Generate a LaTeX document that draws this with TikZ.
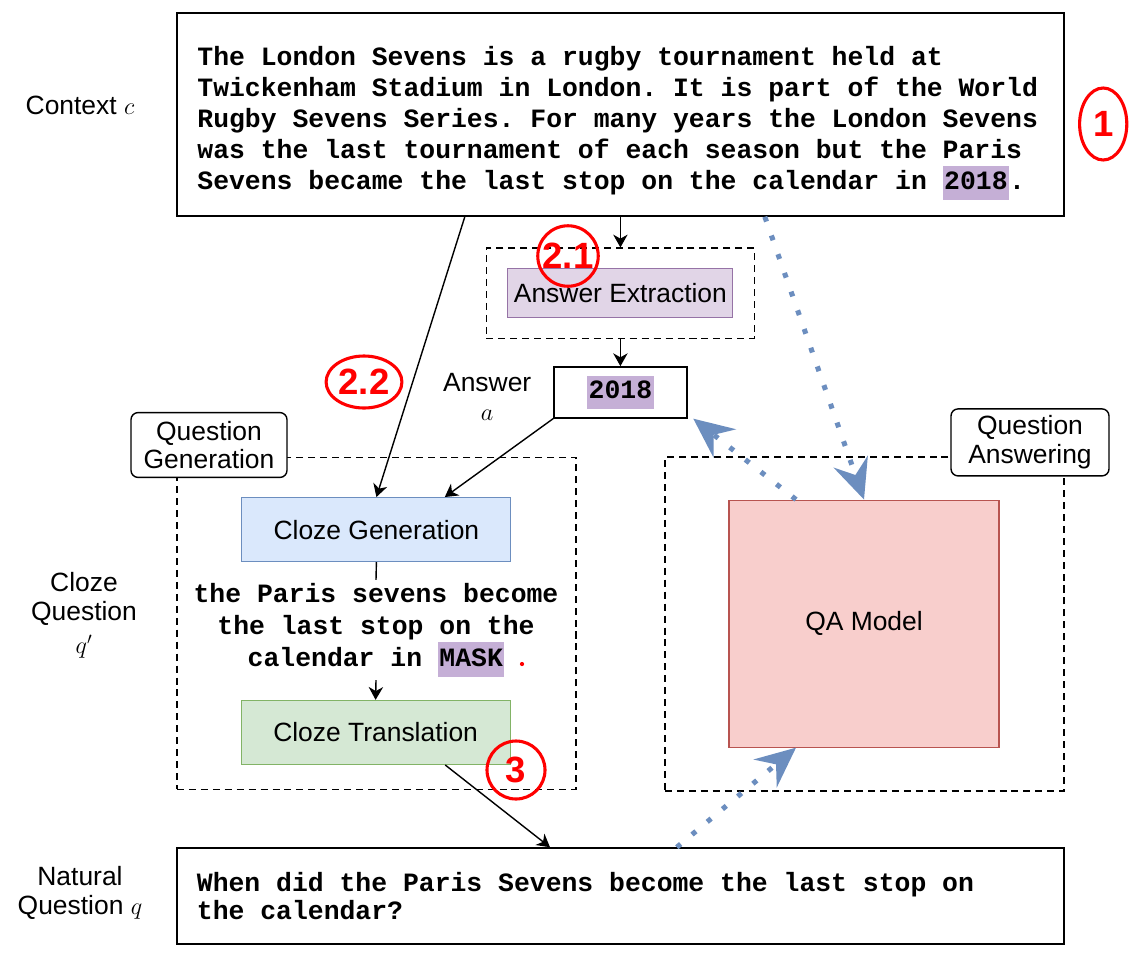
\documentclass[tikz,border=0pt]{standalone}
\usepackage{fontspec}
\setmainfont{Liberation Sans}
\setmonofont{Liberation Mono}
\usetikzlibrary{
	arrows.meta,
	positioning,
	fit,
	backgrounds,
	calc,
	shapes.geometric
}
\definecolor{GenBlue}{HTML}{DAE8FC}
\definecolor{GenBlueLine}{HTML}{6C8EBF}
\definecolor{TransGreen}{HTML}{D5E8D4}
\definecolor{TransGreenLine}{HTML}{82B366}
\definecolor{ExtractPurple}{HTML}{E1D5E7}
\definecolor{ExtractPurpleLine}{HTML}{9673A6}
\definecolor{ModelRed}{HTML}{F8CECC}
\definecolor{ModelRedLine}{HTML}{B85450}
\definecolor{SpanPurple}{HTML}{C5AFD6}
\definecolor{NoteRed}{HTML}{FF0000}
\newcommand{\spanmark}[1]{{\setlength{\fboxsep}{1pt}\colorbox{SpanPurple}{\strut#1}}}
\newcommand{\monospaces}{\spaceskip=.6em\xspaceskip=.6em\relax}

\begin{document}
\begin{tikzpicture}[
 font=\fontsize{18.8}{20.5}\selectfont,
 textbox/.style={draw,line width=1.1pt,align=left,
   font=\fontsize{18.8}{22}\selectfont\ttfamily\bfseries},
 proc/.style={draw,line width=.8pt,minimum width=6.725cm,minimum height=1.6cm},
 genblock/.style={proc,draw=GenBlueLine,fill=GenBlue},
 transblock/.style={proc,draw=TransGreenLine,fill=TransGreen},
 extblock/.style={proc,draw=ExtractPurpleLine,fill=ExtractPurple,
   minimum width=5.625cm,minimum height=1.225cm},
 group/.style={draw,dash pattern=on 5pt off 3.5pt,line width=1pt},
 tagbox/.style={draw,fill=white,rounded corners=5pt,line width=1pt,align=center,
   minimum width=3.9cm,minimum height=1.62cm,inner sep=1pt},
 sidelabel/.style={align=center},
 flow/.style={-{Stealth[length=3.2mm,width=3.6mm,inset=1mm]},line width=1pt},
 feed/.style={-{Stealth[length=10mm,width=9mm,inset=3.5mm]},draw=GenBlueLine,
   line width=3.6pt,dash pattern=on 3.6pt off 10.5pt},
 note/.style={draw=NoteRed,text=NoteRed,line width=2.2pt,
   font=\fontsize{26}{26}\selectfont\bfseries,inner sep=1pt}
]
 \useasboundingbox (0,0) rectangle (28.7,-23.9);
 \node[textbox,text width=21.15cm,inner xsep=0.515cm,minimum height=5.08cm]
   (ctx) at (15.51,-2.86)
   {\monospaces\rule{0pt}{26.4pt}The London Sevens is a rugby tournament held at\\
    Twickenham Stadium in London. It is part of the World\\
    Rugby Sevens Series. For many years the London Sevens\\
    was the last tournament of each season but the Paris\\
    Sevens became the last stop on the calendar in \spanmark{2018}.};
 \node[sidelabel] (ctxlabel) at (2.0,-2.63) {Context $c$};
 \node[extblock] (aext) at (15.51,-7.33) {Answer Extraction};
 \node[textbox,minimum width=3.325cm,minimum height=1.275cm,inner sep=0pt]
   (ans) at (15.51,-9.81) {\spanmark{2018}};
 \node[sidelabel] (anslabel) at (12.18,-9.93) {Answer\\$a$};
 \node[genblock] (cgen) at (9.41,-13.24) {Cloze Generation};
 \node[align=center,inner sep=2pt,
   font=\fontsize{18.8}{22.7}\selectfont\ttfamily\bfseries] (cloze) at (9.4,-15.75)
   {the Paris sevens become\\the last stop on the\\calendar in \spanmark{MASK}};
 \node[transblock] (ctrans) at (9.39,-18.31) {Cloze Translation};
 \node[sidelabel] (clozelabel) at (2.1,-15.38) {Cloze\\Question\\[3pt]$q'$};
 \node[draw=ModelRedLine,fill=ModelRed,line width=.8pt,minimum width=6.75cm,
   minimum height=6.175cm] (qa) at (21.6,-15.59) {QA Model};
 \node[textbox,text width=21.175cm,inner xsep=0.5cm,minimum height=2.4cm,
   font=\fontsize{18.8}{20.5}\selectfont\ttfamily\bfseries] (nq) at (15.51,-22.4)
   {\monospaces When did the Paris Sevens become the last stop on\\the calendar?};
 \node[sidelabel] (nqlabel) at (2.0,-22.33) {Natural\\Question $q$};
 \begin{scope}[on background layer]
  \node[group,inner xsep=0.525cm,inner ysep=0.5cm,fit=(aext)] (extgroup) {};
  \node[group,minimum width=9.975cm,minimum height=8.3cm] (qggroup)
    at (9.41,-15.58) {};
  \node[group,minimum width=9.975cm,minimum height=8.35cm] (qagroup)
    at (21.61,-15.6) {};
 \end{scope}
 \node[tagbox] (qgtag) at (5.225,-11.125) {Question\\Generation};
 \node[tagbox,minimum width=3.95cm,minimum height=1.675cm] (qatag)
   at (25.75,-11.06) {Question\\Answering};
 \draw[flow] (ctx.south)--(extgroup.north);
 \draw[flow] (extgroup.south)--(ans.north);
 \draw[flow] ([xshift=-3.89cm]ctx.south)--(cgen.north);
 \draw[flow] (ans.south west)--([xshift=1.71cm]cgen.north);
 \draw[line width=1pt] (cgen.south)--(cloze.north);
 \draw[flow] (cloze.south)--(ctrans.north);
 \draw[flow] ([xshift=1.74cm]ctrans.south)--([xshift=-1.76cm]nq.north);
 \draw[feed] ([xshift=3.61cm]ctx.south)--(qa.north);
 \draw[feed] ([xshift=-1.7cm]qa.north)--([xshift=4pt]ans.south east);
 \draw[feed] ([xshift=1.41cm]nq.north)--([xshift=-1.7cm]qa.south);
 \node[note,ellipse,minimum width=1.18cm,minimum height=1.8cm] (note1)
   at (27.58,-3.1) {1};
 \node[note,circle,minimum size=1.45cm] (note21) at (14.2,-6.4) {2.1};
 \node[note,ellipse,minimum width=1.55cm,minimum height=1.3cm] (note22)
   at (9.1,-9.55) {2.2};
 \node[note,circle,minimum size=1.45cm] (note3) at (12.9,-19.25) {3};
 \node[circle,fill=NoteRed,inner sep=0pt,minimum size=3pt] (notedot)
   at (13.05,-16.6) {};
\end{tikzpicture}
\end{document}
